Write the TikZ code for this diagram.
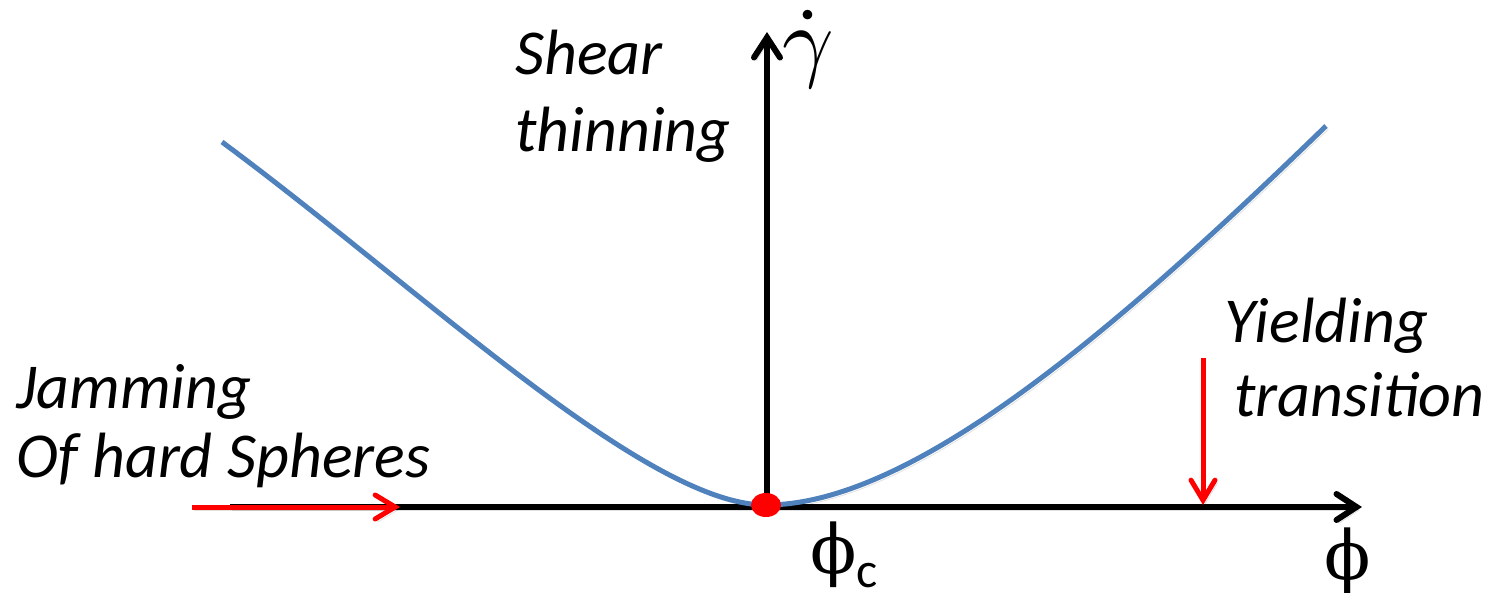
\documentclass[tikz,border=0pt]{standalone}
\usepackage{graphicx}
\usepackage{fontspec}
\setmainfont{Carlito}
\newfontfamily\phifont{DejaVu Serif}
\usetikzlibrary{arrows.meta,shapes.geometric}
\definecolor{curveblue}{RGB}{79,129,189}
\begin{document}
\begin{tikzpicture}[x=0.5pt,y=-0.5pt,
  shadowed/.style={preaction={draw=black, draw opacity=0.12, transform canvas={shift={(1.2pt,-1.6pt)}}}},
  axis/.style={shadowed, line width=3pt, draw=black, -{Straight Barb[length=10pt,width=13pt,line cap=round]}},
  redarrow/.style={shadowed, line width=2.5pt, draw=red, -{Straight Barb[length=10pt,width=12pt,line cap=round]}},
  curvestyle/.style={shadowed, line width=2.5pt, draw=curveblue},
  lbl/.style={font=\fontsize{32}{38.5}\selectfont\itshape, inner sep=0pt, align=left, anchor=base west},
]
\useasboundingbox (0,0) rectangle (1490,593);
% coordinates
\coordinate (O) at (767,507);
\coordinate (xs) at (230,507);
\coordinate (xe) at (1362,507);
\coordinate (ye) at (767,32);
\coordinate (L) at (222,142);
\coordinate (R) at (1326,126);
\coordinate (m) at (766,505);
% axes
\draw[axis] (xs) -- (xe);
\draw[axis] (O) -- (ye);
% curve
\draw[curvestyle] (L) .. controls (422,290) and (646,505) .. (m) .. controls (916,505) and (1126,320) .. (R);
% critical point
\node[ellipse, fill=red, minimum width=15pt, minimum height=12pt, inner sep=0pt] (dot) at (m) {};
% red arrows
\coordinate (ja) at (192,507);
\coordinate (jb) at (400,507);
\draw[redarrow] (ja) -- (jb);
\coordinate (ya) at (1203,358);
\coordinate (yb) at (1203,505);
\draw[redarrow] (ya) -- (yb);
% labels
\node[inner sep=0pt, anchor=base west] (gd) at (782,71) {\scalebox{4.5}{$\dot\gamma$}};
\node[inner sep=0pt, anchor=base west] (phic) at (810,574) {{\phifont\fontsize{34}{34}\selectfont ϕ}{\fontsize{25}{25}\selectfont\raisebox{-6.5pt}{c}}};
\node[inner sep=0pt, anchor=base, font=\phifont\fontsize{34}{34}\selectfont] (phi) at (1348,579) {ϕ};
\node[lbl] (shear) at (515,152) {Shear\\thinning};
\node[lbl, font=\fontsize{32}{35}\selectfont\itshape] (jam) at (16,478) {Jamming\\Of hard Spheres};
\node[lbl, font=\fontsize{32}{37}\selectfont\itshape] (yield) at (1224,416) {Yielding\\\hspace{5pt}transition};
\end{tikzpicture}
\end{document}
